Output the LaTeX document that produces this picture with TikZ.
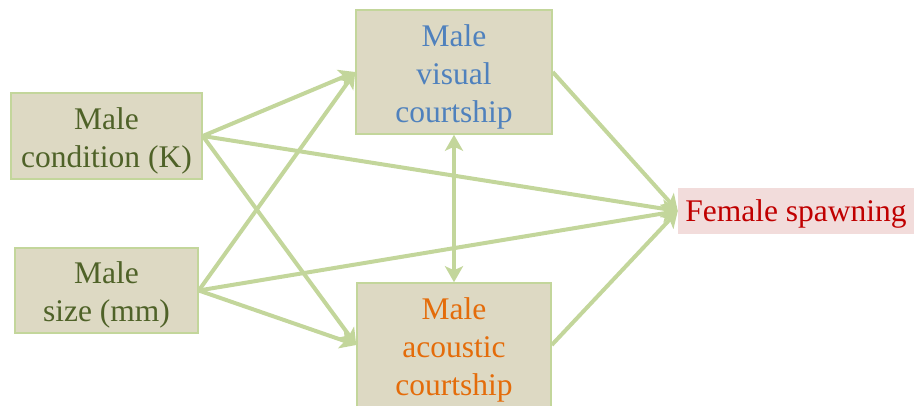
\documentclass[tikz,border=0pt]{standalone}
\usepackage{fontspec}
\setmainfont{Liberation Serif}
\usetikzlibrary{arrows.meta}
\definecolor{boxfill}{HTML}{DDD9C3}
\definecolor{boxline}{HTML}{C3D69B}
\definecolor{arrowcol}{HTML}{C3D69B}
\definecolor{olive}{HTML}{4F6228}
\definecolor{bluetxt}{HTML}{4F81BD}
\definecolor{orangetxt}{HTML}{E46C0A}
\definecolor{redtxt}{HTML}{C00000}
\definecolor{pinkfill}{HTML}{F2DCDB}
\tikzset{
  varbox/.style={draw=boxline, line width=1.5pt, fill=boxfill, inner sep=0pt},
  boxtxt/.style={inner sep=0pt, align=center, font=\fontsize{31.5}{38}\selectfont},
  conn/.style={draw=arrowcol, line width=4pt, -{Stealth[length=16pt,width=18pt,inset=4pt]}},
  biconn/.style={draw=arrowcol, line width=4pt, {Stealth[length=16pt,width=18pt,inset=4pt]}-{Stealth[length=16pt,width=18pt,inset=4pt]}}
}
\begin{document}
\begin{tikzpicture}[x=1pt,y=-1pt]
\useasboundingbox (0,0) rectangle (914,406);
\node[varbox, minimum width=191pt, minimum height=86pt] (cond) at (106.5,136) {};
\node[boxtxt, text=olive] (condtxt) at ([yshift=-4.5pt]cond.center) {Male\\condition (K)};
\node[varbox, minimum width=183pt, minimum height=85pt] (size) at (106.5,290.5) {};
\node[boxtxt, text=olive] (sizetxt) at ([yshift=-4.5pt]size.center) {Male\\size (mm)};
\node[varbox, minimum width=196pt, minimum height=124pt] (vis) at (454,72) {};
\node[boxtxt, text=bluetxt] (vistxt) at ([yshift=-4.5pt]vis.center) {Male\\visual\\courtship};
\node[varbox, minimum width=194pt, minimum height=124pt] (acou) at (454,345) {};
\node[boxtxt, text=orangetxt] (acoutxt) at ([yshift=-4.5pt]acou.center) {Male\\acoustic\\courtship};
\node[fill=pinkfill, inner sep=0pt, minimum width=236pt, minimum height=46pt] (fem) at (796,211) {};
\node[boxtxt, text=redtxt] (femtxt) at ([yshift=-3pt]fem.center) {Female spawning};
\draw[conn] (cond.east) -- (vis.west);
\draw[conn] (cond.east) -- (acou.west);
\draw[conn] (cond.east) -- (fem.west);
\draw[conn] (size.east) -- (vis.west);
\draw[conn] (size.east) -- (acou.west);
\draw[conn] (size.east) -- (fem.west);
\draw[conn] (vis.east) -- (fem.west);
\draw[conn] (acou.east) -- (fem.west);
\draw[biconn] (vis.south) -- (acou.north);
\end{tikzpicture}
\end{document}
